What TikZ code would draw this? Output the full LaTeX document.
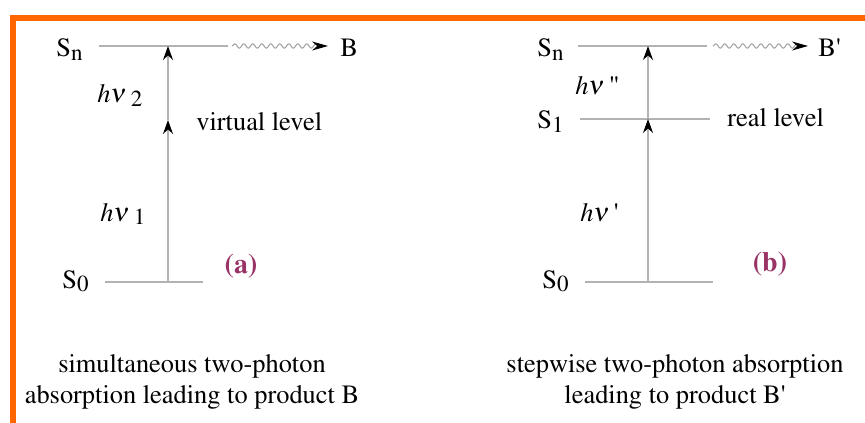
\documentclass[tikz,border=0pt]{standalone}
\usepackage[T1]{fontenc}
\usepackage{mathptmx}
\usepackage{tikz}
\usetikzlibrary{arrows.meta,calc,positioning,decorations.pathmorphing}
\definecolor{frameorange}{RGB}{255,102,0}
\definecolor{tagpurple}{RGB}{153,51,102}
\newcommand{\lowsub}[1]{\raisebox{-0.3ex}{\fontsize{11.5}{12}\selectfont #1}}
\newcommand{\hnu}{$h\nu$}

\begin{document}
\begin{tikzpicture}[x=0.5pt,y=-0.5pt,
    font=\fontsize{13.2}{15.5}\selectfont,
    level/.style={draw=gray!60, line width=0.6pt},
    photon/.style={draw=gray!60, line width=0.6pt, -{Stealth[length=7pt,width=5pt,black]}},
    decay/.style={draw=gray!75, line width=0.5pt, -{Stealth[length=8pt,width=4.5pt,black]},
        decorate, decoration={snake, amplitude=1.1pt, segment length=4.5pt, post length=4pt}},
    lbl/.style={inner sep=0pt, anchor=base west},
    tag/.style={inner sep=0pt, text=tagpurple, font=\fontsize{14}{16}\selectfont\bfseries},
    caption/.style={inner sep=0pt, align=center, anchor=base}]
    \useasboundingbox (0,0) rectangle (865,422);

    % Cornice arancione (solo lato sinistro e lato superiore)
    \draw[frameorange, line width=3pt] (13,430) -- (13,18) -- (870,18);

    % (a) assorbimento simultaneo
    \node[lbl] (snA) at (56,57) {S\lowsub{n}};
    \node[lbl] (s0A) at (62,288) {S\lowsub{0}};
    \draw[level] (99,46) -- (228,46);
    \draw[level] (105,282) -- (203,282);
    \coordinate (a0) at (168,282);
    \coordinate (av) at (168,120);
    \coordinate (an) at (168,46);
    \draw[photon] (a0) -- (av);
    \draw[photon] (av) -- (an);
    \node[lbl] (hv2) at (97,103) {\hnu\,\lowsub{2}};
    \node[lbl] (hv1) at (100,221) {\hnu\,\lowsub{1}};
    \node[lbl] (virt) at (196,131) {virtual level};
    \node[lbl] (prodA) at (340,57) {B};
    \coordinate (wA) at (232,46);
    \draw[decay] (wA) -- ([xshift=-6pt]prodA.west |- wA);
    \node[tag] (tagA) at (241,266) {(a)};
    \node[caption] (capA) at (192,403) {simultaneous two-photon\\absorption leading to product B};

    % (b) assorbimento a gradini
    \node[lbl] (snB) at (537,57) {S\lowsub{n}};
    \node[lbl] (s1B) at (537,129) {S\lowsub{1}};
    \node[lbl] (s0B) at (542,288) {S\lowsub{0}};
    \draw[level] (578,46) -- (707,46);
    \draw[level] (580,119) -- (710,119);
    \draw[level] (585,282) -- (713,282);
    \coordinate (b0) at (648,282);
    \coordinate (b1) at (648,119);
    \coordinate (bn) at (648,46);
    \draw[photon] (b0) -- (b1);
    \draw[photon] (b1) -- (bn);
    \node[lbl] (hvpp) at (575,95) {\hnu\,\textquotedbl};
    \node[lbl] (hvp) at (580,221) {\hnu\,\textquotesingle};
    \node[lbl] (real) at (727,127) {real level};
    \node[lbl] (prodB) at (818,57) {B\textquotesingle};
    \coordinate (wB) at (713,46);
    \draw[decay] (wB) -- ([xshift=-5pt]prodB.west |- wB);
    \node[tag] (tagB) at (770,264) {(b)};
    \node[caption] (capB) at (675,403) {stepwise two-photon absorption\\leading to product B\textquotesingle};
\end{tikzpicture}
\end{document}
